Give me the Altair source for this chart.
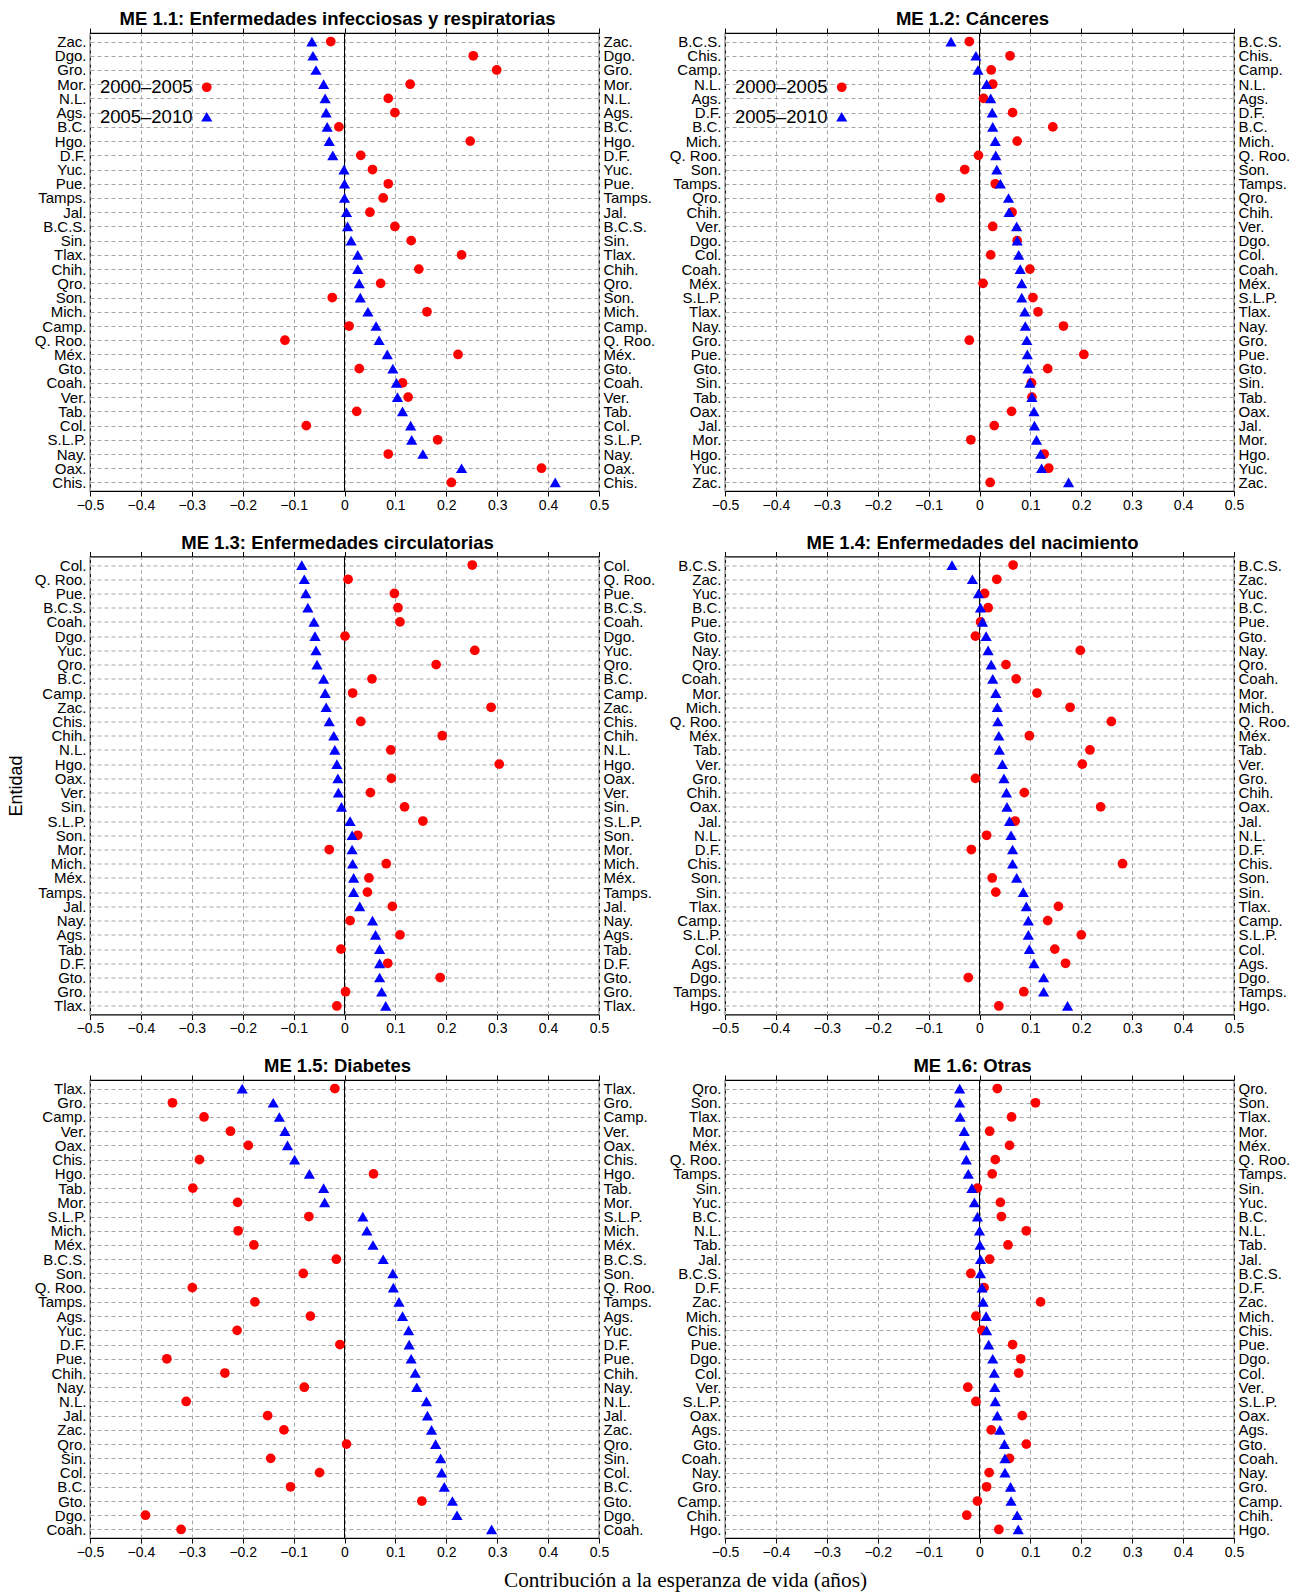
import altair as alt
import pandas as pd

SERIES = ["2000–2005", "2005–2010"]
COLORS = ["#ff0000", "#0000ff"]
SHAPES = ["circle", "triangle-up"]
X_TICKS = [-0.5, -0.4, -0.3, -0.2, -0.1, 0, 0.1, 0.2, 0.3, 0.4, 0.5]

TITLES = [
    "ME 1.1: Enfermedades infecciosas y respiratorias",
    "ME 1.2: Cánceres",
    "ME 1.3: Enfermedades circulatorias",
    "ME 1.4: Enfermedades del nacimiento",
    "ME 1.5: Diabetes",
    "ME 1.6: Otras",
]
X_TITLE = "Contribución a la esperanza de vida (años)"
Y_TITLE = "Entidad"

# ---- ME 1.1 ----
P1_STATES = ["Zac.", "Dgo.", "Gro.", "Mor.", "N.L.", "Ags.", "B.C.", "Hgo.", "D.F.", "Yuc.",
             "Pue.", "Tamps.", "Jal.", "B.C.S.", "Sin.", "Tlax.", "Chih.", "Qro.", "Son.", "Mich.",
             "Camp.", "Q. Roo.", "Méx.", "Gto.", "Coah.", "Ver.", "Tab.", "Col.", "S.L.P.", "Nay.",
             "Oax.", "Chis."]
P1_0005 = [-0.027, 0.253, 0.299, 0.129, 0.086, 0.099, -0.011, 0.247, 0.032, 0.055,
           0.086, 0.076, 0.050, 0.099, 0.131, 0.230, 0.146, 0.071, -0.024, 0.162,
           0.009, -0.117, 0.223, 0.029, 0.114, 0.125, 0.024, -0.075, 0.183, 0.086,
           0.387, 0.210]
P1_0510 = [-0.064, -0.062, -0.056, -0.041, -0.038, -0.036, -0.034, -0.030, -0.023, -0.001,
           0.000, 0.000, 0.004, 0.006, 0.013, 0.026, 0.026, 0.029, 0.031, 0.046,
           0.062, 0.068, 0.084, 0.095, 0.102, 0.104, 0.114, 0.130, 0.132, 0.154,
           0.230, 0.414]

# ---- ME 1.2 ----
P2_STATES = ["B.C.S.", "Chis.", "Camp.", "N.L.", "Ags.", "D.F.", "B.C.", "Mich.", "Q. Roo.", "Son.",
             "Tamps.", "Qro.", "Chih.", "Ver.", "Dgo.", "Col.", "Coah.", "Méx.", "S.L.P.", "Tlax.",
             "Nay.", "Gro.", "Pue.", "Gto.", "Sin.", "Tab.", "Oax.", "Jal.", "Mor.", "Hgo.",
             "Yuc.", "Zac."]
P2_0005 = [-0.020, 0.060, 0.023, 0.026, 0.008, 0.065, 0.144, 0.074, -0.002, -0.029,
           0.031, -0.077, 0.064, 0.026, 0.074, 0.022, 0.099, 0.007, 0.105, 0.115,
           0.165, -0.020, 0.205, 0.134, 0.102, 0.103, 0.063, 0.029, -0.017, 0.127,
           0.136, 0.021]
P2_0510 = [-0.056, -0.007, -0.003, 0.014, 0.022, 0.025, 0.026, 0.031, 0.032, 0.034,
           0.041, 0.057, 0.058, 0.073, 0.074, 0.077, 0.080, 0.083, 0.083, 0.089,
           0.090, 0.093, 0.094, 0.095, 0.099, 0.103, 0.107, 0.108, 0.112, 0.120,
           0.122, 0.175]

# ---- ME 1.3 ----
P3_STATES = ["Col.", "Q. Roo.", "Pue.", "B.C.S.", "Coah.", "Dgo.", "Yuc.", "Qro.", "B.C.", "Camp.",
             "Zac.", "Chis.", "Chih.", "N.L.", "Hgo.", "Oax.", "Ver.", "Sin.", "S.L.P.", "Son.",
             "Mor.", "Mich.", "Méx.", "Tamps.", "Jal.", "Nay.", "Ags.", "Tab.", "D.F.", "Gto.",
             "Gro.", "Tlax."]
P3_0005 = [0.251, 0.007, 0.098, 0.105, 0.109, 0.001, 0.256, 0.180, 0.054, 0.016,
           0.288, 0.032, 0.192, 0.091, 0.304, 0.092, 0.051, 0.118, 0.154, 0.026,
           -0.030, 0.082, 0.048, 0.045, 0.094, 0.011, 0.109, -0.007, 0.085, 0.188,
           0.002, -0.015]
P3_0510 = [-0.084, -0.079, -0.076, -0.072, -0.060, -0.058, -0.056, -0.054, -0.041, -0.038,
           -0.036, -0.030, -0.021, -0.019, -0.015, -0.013, -0.012, -0.006, 0.011, 0.015,
           0.015, 0.016, 0.018, 0.018, 0.030, 0.055, 0.061, 0.069, 0.069, 0.069,
           0.073, 0.081]

# ---- ME 1.4 ----
P4_STATES = ["B.C.S.", "Zac.", "Yuc.", "B.C.", "Pue.", "Gto.", "Nay.", "Qro.", "Coah.", "Mor.",
             "Mich.", "Q. Roo.", "Méx.", "Tab.", "Ver.", "Gro.", "Chih.", "Oax.", "Jal.", "N.L.",
             "D.F.", "Chis.", "Son.", "Sin.", "Tlax.", "Camp.", "S.L.P.", "Col.", "Ags.", "Dgo.",
             "Tamps.", "Hgo."]
P4_0005 = [0.066, 0.034, 0.010, 0.017, 0.002, -0.008, 0.198, 0.052, 0.072, 0.113,
           0.178, 0.259, 0.098, 0.217, 0.202, -0.008, 0.088, 0.238, 0.070, 0.014,
           -0.016, 0.281, 0.025, 0.032, 0.155, 0.134, 0.200, 0.148, 0.169, -0.022,
           0.087, 0.038]
P4_0510 = [-0.054, -0.014, -0.002, 0.002, 0.006, 0.013, 0.017, 0.023, 0.026, 0.032,
           0.035, 0.036, 0.038, 0.039, 0.045, 0.048, 0.053, 0.054, 0.059, 0.062,
           0.065, 0.065, 0.073, 0.086, 0.092, 0.096, 0.096, 0.098, 0.107, 0.126,
           0.126, 0.173]

# ---- ME 1.5 ----
P5_STATES = ["Tlax.", "Gro.", "Camp.", "Ver.", "Oax.", "Chis.", "Hgo.", "Tab.", "Mor.", "S.L.P.",
             "Mich.", "Méx.", "B.C.S.", "Son.", "Q. Roo.", "Tamps.", "Ags.", "Yuc.", "D.F.", "Pue.",
             "Chih.", "Nay.", "N.L.", "Jal.", "Zac.", "Qro.", "Sin.", "Col.", "B.C.", "Gto.",
             "Dgo.", "Coah."]
P5_0005 = [-0.019, -0.338, -0.276, -0.224, -0.189, -0.285, 0.057, -0.298, -0.210, -0.070,
           -0.209, -0.178, -0.016, -0.081, -0.299, -0.176, -0.067, -0.211, -0.009, -0.349,
           -0.235, -0.079, -0.311, -0.151, -0.119, 0.004, -0.145, -0.049, -0.106, 0.152,
           -0.391, -0.321]
P5_0510 = [-0.201, -0.140, -0.128, -0.117, -0.112, -0.098, -0.069, -0.041, -0.039, 0.036,
           0.044, 0.056, 0.076, 0.095, 0.096, 0.107, 0.114, 0.126, 0.127, 0.131,
           0.139, 0.142, 0.161, 0.163, 0.171, 0.179, 0.189, 0.191, 0.196, 0.212,
           0.221, 0.289]

# ---- ME 1.6 ----
P6_STATES = ["Qro.", "Son.", "Tlax.", "Mor.", "Méx.", "Q. Roo.", "Tamps.", "Sin.", "Yuc.", "B.C.",
             "N.L.", "Tab.", "Jal.", "B.C.S.", "D.F.", "Zac.", "Mich.", "Chis.", "Pue.", "Dgo.",
             "Col.", "Ver.", "S.L.P.", "Oax.", "Ags.", "Gto.", "Coah.", "Nay.", "Gro.", "Camp.",
             "Chih.", "Hgo."]
P6_0005 = [0.035, 0.110, 0.063, 0.020, 0.059, 0.031, 0.025, -0.004, 0.041, 0.043,
           0.092, 0.056, 0.020, -0.017, 0.009, 0.120, -0.007, 0.005, 0.065, 0.081,
           0.077, -0.023, -0.007, 0.084, 0.023, 0.092, 0.059, 0.019, 0.014, -0.004,
           -0.025, 0.038]
P6_0510 = [-0.039, -0.039, -0.038, -0.030, -0.029, -0.026, -0.022, -0.015, -0.010, -0.004,
           0.000, 0.001, 0.002, 0.002, 0.005, 0.007, 0.013, 0.014, 0.018, 0.026,
           0.029, 0.030, 0.031, 0.035, 0.040, 0.049, 0.050, 0.050, 0.061, 0.062,
           0.074, 0.076]

PANELS = [
    (TITLES[0], P1_STATES, P1_0005, P1_0510),
    (TITLES[1], P2_STATES, P2_0005, P2_0510),
    (TITLES[2], P3_STATES, P3_0005, P3_0510),
    (TITLES[3], P4_STATES, P4_0005, P4_0510),
    (TITLES[4], P5_STATES, P5_0005, P5_0510),
    (TITLES[5], P6_STATES, P6_0005, P6_0510),
]

FONT = "Liberation Sans"
W, H = 509, 458
GRID = dict(gridColor="#a6a6a6", gridDash=[4, 3], gridWidth=1)


def make_panel(title, states, v_a, v_b, show_legend, y_title):
    n = len(states)
    df = pd.DataFrame({
        "Estado": states + states,
        "Serie": [SERIES[0]] * n + [SERIES[1]] * n,
        "Valor": v_a + v_b,
    })
    xscale = alt.Scale(domain=[-0.5, 0.5], nice=False, zero=False)
    yscale = alt.Scale(type="point", domain=states, padding=0.6)

    leg = None
    if show_legend:
        # label drawn to the left of its symbol, as in the original figure
        leg = alt.Legend(
            title=None, orient="none", legendX=107.5, legendY=45, padding=0,
            labelFont=FONT, labelFontSize=18.5, labelColor="black",
            labelAlign="right", labelOffset={"expr": "-23.5"}, symbolSize=110,
            symbolStrokeWidth=0, rowPadding=10.5,
        )

    left_axis = alt.Axis(
        orient="left", title=y_title, labelFont=FONT, labelFontSize=15, labelColor="black",
        labelPadding=4, ticks=False, domain=False, grid=True, labelOverlap=False,
        titleFont=FONT, titleFontSize=18, titleFontWeight="normal", titleColor="black",
        titlePadding=9, **GRID,
    )
    right_axis = alt.Axis(
        orient="right", title=None, labelFont=FONT, labelFontSize=15, labelColor="black",
        labelPadding=4, ticks=False, domain=False, grid=False, labelOverlap=False,
    )
    bottom_axis = alt.Axis(
        orient="bottom", title=None, values=X_TICKS, grid=True, domain=False,
        tickSize=5, tickColor="black", labelFont=FONT, labelFontSize=14, labelColor="black",
        labelPadding=2, labelFlush=False, labelOverlap=False,
        labelExpr="datum.value == 0 ? '0' : format(datum.value, '.1f')", **GRID,
    )
    top_axis = alt.Axis(
        orient="top", title=None, values=X_TICKS, grid=False, domain=False, labels=False,
        tickSize=5, tickColor="black",
    )

    zero = alt.Chart(df).mark_rule(color="black", strokeWidth=1).encode(
        x=alt.XDatum(0, axis=None)
    )
    pts = alt.Chart(df).mark_point(filled=True, opacity=1, strokeWidth=0).encode(
        x=alt.X("Valor:Q", scale=xscale, axis=bottom_axis),
        y=alt.Y("Estado:N", scale=yscale, sort=states, axis=left_axis),
        color=alt.Color("Serie:N", scale=alt.Scale(domain=SERIES, range=COLORS), legend=leg),
        shape=alt.Shape("Serie:N", scale=alt.Scale(domain=SERIES, range=SHAPES), legend=leg),
        size=alt.Size("Serie:N", scale=alt.Scale(domain=SERIES, range=[95, 125]), legend=None),
    )
    ghost = alt.Chart(df).mark_point(opacity=0).encode(
        x=alt.X("Valor:Q", scale=xscale, axis=top_axis),
        y=alt.Y("Estado:N", scale=yscale, sort=states, axis=right_axis),
    )
    return (
        alt.layer(zero, pts, ghost)
        .resolve_axis(x="independent", y="independent")
        .properties(
            width=W, height=H,
            title=alt.TitleParams(title, font=FONT, fontSize=18.5, fontWeight="bold",
                                  anchor="middle", offset=1, color="black", dx=-7, dy=2),
        )
    )


charts = []
for i, (t, s, a, b) in enumerate(PANELS):
    charts.append(make_panel(t, s, a, b, show_legend=(i < 2), y_title=(Y_TITLE if i == 2 else None)))

chart = (
    alt.concat(*charts, columns=2, spacing={"row": 19.5, "column": 12}, align="each")
    .resolve_scale(color="independent", shape="independent", size="independent")
    .resolve_legend(color="independent", shape="independent", size="independent")
    .properties(
        title=alt.TitleParams(X_TITLE, orient="bottom", anchor="middle", font="Liberation Serif",
                              fontSize=21.3, fontWeight="normal", color="black", offset=10, dx=37),
        padding={"left": 6, "top": 9, "right": 5, "bottom": 5},
    )
    .configure(font=FONT)
    .configure_view(stroke="black", strokeWidth=1.2)
)

chart.save("out.html", embed_options={"renderer": "svg", "actions": False})
